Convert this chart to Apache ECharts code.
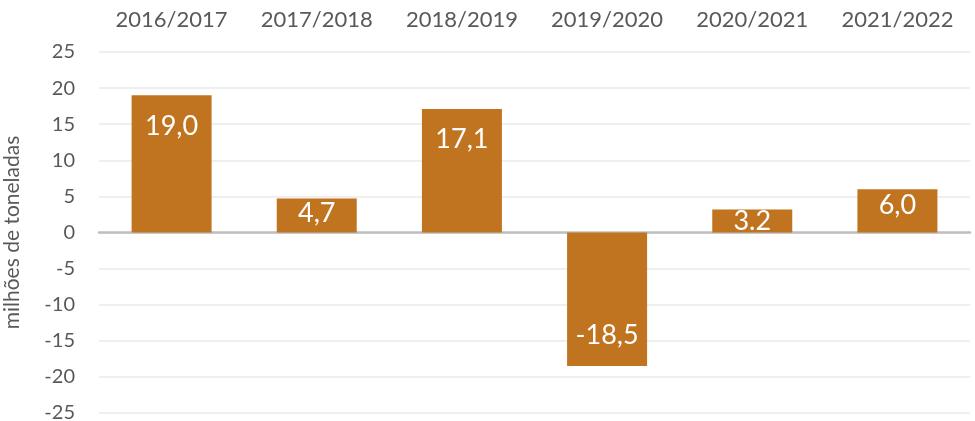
<!DOCTYPE html>
<html>
<head>
<meta charset="utf-8">
<script src="https://cdn.jsdelivr.net/npm/echarts@6/dist/echarts.min.js"></script>
<style>
html,body{margin:0;padding:0;background:#fff;}
#chart{width:975px;height:421px;}
</style>
</head>
<body>
<div id="chart"></div>
<script>
var categories = ["2016/2017","2017/2018","2018/2019","2019/2020","2020/2021","2021/2022"];
var values = [19.0, 4.7, 17.1, -18.5, 3.2, 6.0];
var valueLabels = ["19,0","4,7","17,1","-18,5","3.2","6,0"];
var yTicks = {min:-25, max:25, interval:5};

var FONT = 'Lato';
var TEXT = '#595959';
var BAR = '#C0741F';

var chart = echarts.init(document.getElementById('chart'), null, {renderer:'canvas'});

var data = values.map(function(v, i){
  var abs = Math.abs(v);
  var label;
  if (abs > 10) {
    label = {position: v >= 0 ? 'insideTop' : 'insideBottom', distance: 17};
  } else {
    var off = abs >= 6 ? -6 : (abs >= 4.5 ? -2 : 0);
    label = {position: 'inside', offset: [0, off]};
  }
  return {value: v, label: label};
});

chart.setOption({
  animation: false,
  grid: {left: 99, right: 5, top: 52, bottom: 8, containLabel: false, outerBoundsMode: 'none'},
  xAxis: [{
    type: 'category',
    data: categories,
    position: 'top',
    axisLine: {show: false, onZero: false},
    axisTick: {show: false},
    axisLabel: {color: TEXT, fontFamily: FONT, fontSize: 22, margin: 21, interval: 0, hideOverlap: false},
    splitLine: {show: false}
  }, {
    type: 'category',
    data: categories,
    position: 'bottom',
    axisLine: {show: true, onZero: true, lineStyle: {color: '#BFBFBF', width: 2.5}},
    axisTick: {show: false},
    axisLabel: {show: false},
    splitLine: {show: false}
  }],
  yAxis: {
    type: 'value',
    min: yTicks.min, max: yTicks.max, interval: yTicks.interval,
    name: 'milhões de toneladas',
    nameLocation: 'middle',
    nameGap: 76,
    nameTextStyle: {color: TEXT, fontFamily: FONT, fontSize: 21},
    axisLine: {show: false},
    axisTick: {show: false},
    axisLabel: {color: TEXT, fontFamily: FONT, fontSize: 20, margin: 24},
    splitLine: {show: true, lineStyle: {color: '#EFEFEF', width: 2}}
  },
  series: [{
    type: 'bar',
    xAxisIndex: 0,
    data: data,
    barWidth: 80,
    itemStyle: {color: BAR},
    label: {
      show: true,
      color: '#fff',
      fontFamily: FONT,
      fontSize: 27,
      formatter: function(p){ return valueLabels[p.dataIndex]; }
    }
  }]
});
</script>
</body>
</html>
